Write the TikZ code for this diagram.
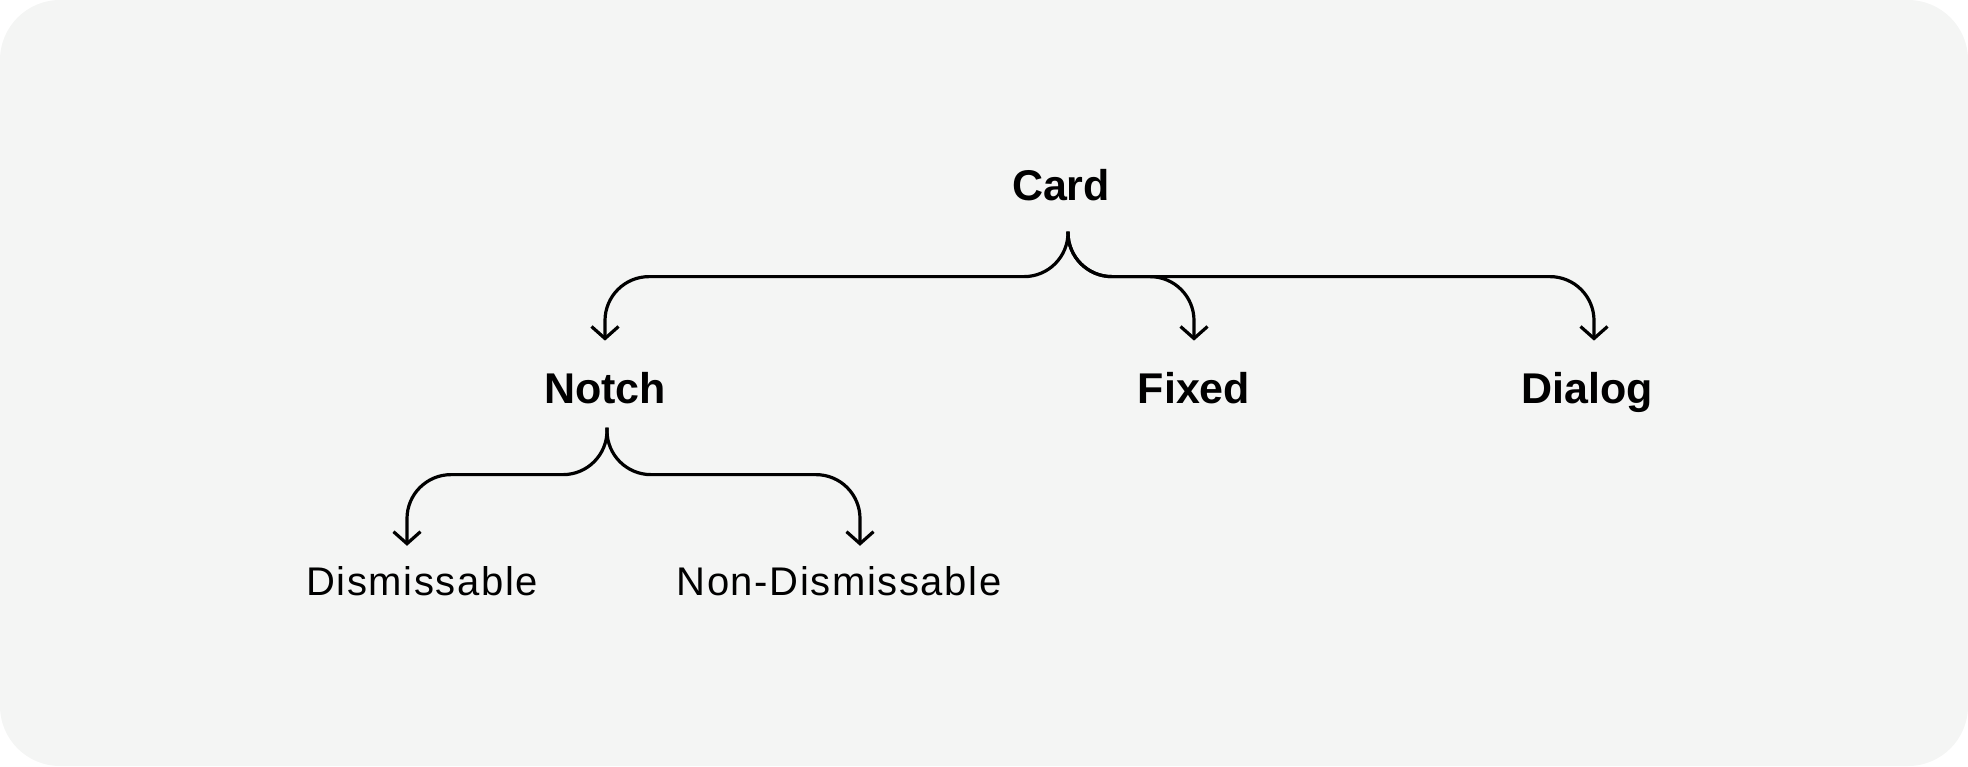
\documentclass[tikz,border=0pt]{standalone}
\usepackage{fontspec}
\setmainfont{Liberation Sans}
\newfontfamily\leaffont[LetterSpace=4]{Liberation Sans}
\usetikzlibrary{arrows.meta}

\definecolor{cardbg}{RGB}{244,245,244}

\tikzset{
    kind/.style={font=\fontsize{43}{50}\selectfont\bfseries, inner xsep=0pt, inner ysep=31pt, anchor=base},
    leaf/.style={font=\fontsize{40}{46}\selectfont\leaffont, inner xsep=0pt, inner ysep=20pt, anchor=base},
    branch/.style={line width=3.2pt, rounded corners=44pt, -{Straight Barb[length=12pt,width=27pt]}},
}

\begin{document}
\begin{tikzpicture}[x=1pt,y=1pt,yscale=-1,xscale=1]
    \useasboundingbox (0,0) rectangle (1968,766);
    %Shape: Rounded Rect
    \fill [cardbg, rounded corners=60pt] (0,0) rectangle (1968,766);
    % Text Node
    \node [kind] (card) at (1061,200) {Card};
    % Text Node
    \node [kind] (notch) at (605,403) {Notch};
    % Text Node
    \node [kind] (fixed) at (1194,403) {Fixed};
    % Text Node
    \node [kind] (dialog) at (1587,403) {Dialog};
    % Text Node
    \node [leaf] (dismiss) at (422,595) {Dismissable};
    % Text Node
    \node [leaf] (nondismiss) at (839,595) {Non-Dismissable};
    %Curve Lines
    \coordinate (cardtop) at ([xshift=7pt]card.south);
    \draw [branch] (cardtop) -- ++(0,45) -| (notch.north);
    \draw [branch] (cardtop) -- ++(0,45) -| (fixed.north);
    \draw [branch] (cardtop) -- ++(0,45) -| ([xshift=7pt]dialog.north);
    %Curve Lines
    \coordinate (notchtop) at ([xshift=2pt,yshift=-7pt]notch.south);
    \draw [branch] (notchtop) -- ++(0,47) -| ([xshift=-15pt]dismiss.north);
    \draw [branch] (notchtop) -- ++(0,47) -| ([xshift=21pt]nondismiss.north);
\end{tikzpicture}
\end{document}
